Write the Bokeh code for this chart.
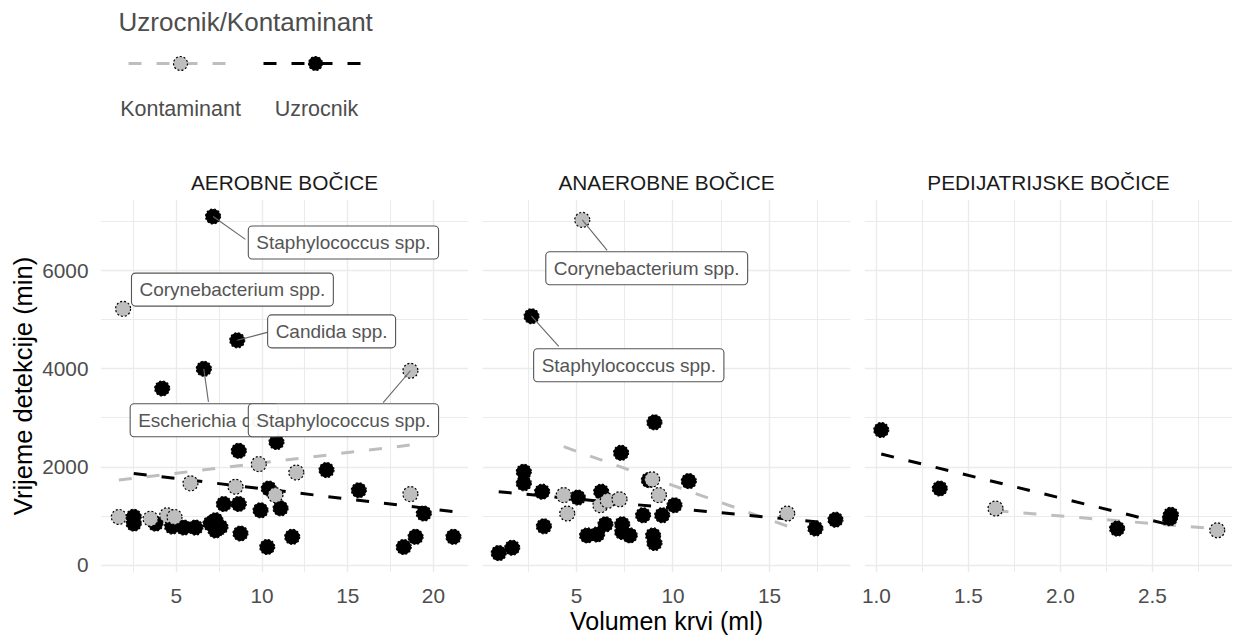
from bokeh.plotting import figure
from bokeh.layouts import column, row
from bokeh.models import Range1d, FixedTicker
from bokeh.core.properties import value
from bokeh.embed import file_html
from bokeh.resources import INLINE

# ---------------- data ----------------
panel_titles = ["AEROBNE BOČICE", "ANAEROBNE BOČICE", "PEDIJATRIJSKE BOČICE"]
groups = ["Kontaminant", "Uzrocnik"]
legend_title = "Uzrocnik/Kontaminant"
x_title = "Volumen krvi (ml)"
y_title = "Vrijeme detekcije (min)"

# AEROBNE BOČICE
aer_k_x = [1.89, 18.66, 9.81, 12.0, 5.82, 8.45, 10.78, 18.66, 1.64, 3.49, 4.46, 4.89]
aer_k_y = [5220, 3960, 2060, 1890, 1670, 1600, 1430, 1450, 985, 950, 1020, 985]
aer_u_x = [7.14, 8.55, 6.6, 4.17, 8.64, 10.84, 13.76, 10.39, 9.91, 11.08, 15.65, 19.44,
           18.96, 18.27, 21.17, 11.76, 10.3, 8.74, 7.77, 8.64, 7.28, 7.57, 7.28, 6.99,
           2.51, 2.51, 3.78, 4.75, 5.43, 6.11]
aer_u_y = [7100, 4580, 4000, 3600, 2330, 2510, 1940, 1565, 1120, 1160, 1530, 1055,
           580, 375, 580, 580, 375, 650, 1250, 1250, 920, 780, 710, 850,
           990, 850, 850, 790, 770, 770]
aer_fit_k_x = [1.64, 18.66]
aer_fit_k_y = [1735, 2449]
aer_fit_u_x = [2.51, 21.17]
aer_fit_u_y = [1871, 1095]
aer_lab_text = ["Staphylococcus spp.", "Corynebacterium spp.", "Candida spp.",
                "Escherichia coli", "Staphylococcus spp."]
aer_lab_pt_x = [7.14, 1.89, 8.55, 6.6, 18.66]
aer_lab_pt_y = [7100, 5220, 4580, 4000, 3960]

# ANAEROBNE BOČICE
ana_k_x = [5.3, 4.34, 4.52, 6.24, 6.62, 7.23, 8.92, 9.27, 15.92]
ana_k_y = [7030, 1430, 1055, 1225, 1315, 1345, 1750, 1430, 1055]
ana_u_x = [2.67, 9.04, 7.31, 2.27, 2.27, 3.22, 3.31, 0.97, 1.67, 5.07, 6.28, 5.55,
           6.07, 6.5, 7.37, 7.37, 7.76, 8.75, 8.45, 9.44, 10.08, 8.97, 9.04, 10.82,
           17.38, 18.42]
ana_u_y = [5070, 2910, 2290, 1905, 1670, 1500, 795, 250, 360, 1380, 1500, 610,
           630, 835, 835, 680, 610, 1735, 1020, 1020, 1225, 610, 455, 1715,
           750, 930]
ana_fit_k_x = [4.34, 15.92]
ana_fit_k_y = [2415, 800]
ana_fit_u_x = [0.97, 18.42]
ana_fit_u_y = [1500, 850]
ana_lab_text = ["Corynebacterium spp.", "Staphylococcus spp."]
ana_lab_pt_x = [5.3, 2.67]
ana_lab_pt_y = [7030, 5070]

# PEDIJATRIJSKE BOČICE
ped_k_x = [1.647, 2.852]
ped_k_y = [1157, 714]
ped_u_x = [1.026, 1.344, 2.308, 2.60, 2.595]
ped_u_y = [2755, 1565, 748, 1030, 960]
ped_fit_k_x = [1.647, 2.852]
ped_fit_k_y = [1111, 744]
ped_fit_u_x = [1.026, 2.60]
ped_fit_u_y = [2265, 820]
ped_lab_text = []
ped_lab_pt_x = []
ped_lab_pt_y = []

# tick labels
y_ticks = [0, 2000, 4000, 6000]
y_tick_labels = ["0", "2000", "4000", "6000"]
y_minor = [1000, 3000, 5000, 7000]
aer_x_ticks = [5, 10, 15, 20]
aer_x_labels = ["5", "10", "15", "20"]
aer_x_minor = [2.5, 7.5, 12.5, 17.5]
ana_x_ticks = [5, 10, 15]
ana_x_labels = ["5", "10", "15"]
ana_x_minor = [2.5, 7.5, 12.5, 17.5]
ped_x_ticks = [1.0, 1.5, 2.0, 2.5]
ped_x_labels = ["1.0", "1.5", "2.0", "2.5"]
ped_x_minor = [1.25, 1.75, 2.25, 2.75]

# ---------------- layout / style (not data) ----------------
aer_lab_pos_x = [14.75, 8.27, 14.06, 6.62, 14.75]
aer_lab_pos_y = [6571, 5612, 4762, 2953, 2953]
aer_seg_end_x = [9.03, 1.89, 10.3, 6.87, 17.07]
aer_seg_end_y = [6633, 5220, 4741, 3327, 3312]
ana_lab_pos_x = [8.64, 7.71]
ana_lab_pos_y = [6045, 4071]
ana_seg_end_x = [6.59, 4.08]
ana_seg_end_y = [6408, 4455]

FONT = "Liberation Sans"
GRAY = "#BEBEBE"
GRID = "#EBEBEB"
SMALL = "20.8px"
BIG = "26px"
PT_SIZE = 15
DASH = "13 15"


def make_panel(title, xr, fw, bl, br, kx, ky, ux, uy, fkx, fky, fux, fuy,
               xt, xtl, xm, show_y, xlabel,
               lab_text, lab_px, lab_py, lab_x, lab_y, seg_x, seg_y):
    p = figure(frame_width=fw, frame_height=373,
               x_range=Range1d(*xr), y_range=Range1d(-145, 7445),
               output_backend="svg", toolbar_location=None,
               min_border_left=bl, min_border_right=br,
               min_border_top=49, min_border_bottom=0,
               background_fill_color="white", border_fill_color="white",
               outline_line_color=None, title=title)
    p.title.align = "center"
    p.title.text_font = FONT
    p.title.text_font_size = SMALL
    p.title.text_font_style = "normal"
    p.title.text_color = "#1A1A1A"
    p.title.standoff = 11

    xtick = FixedTicker(ticks=xt, minor_ticks=xm)
    p.xaxis.ticker = xtick
    p.xgrid.ticker = xtick
    p.xaxis.major_label_overrides = {t: l for t, l in zip(xt, xtl)}
    ytick = FixedTicker(ticks=y_ticks, minor_ticks=y_minor)
    p.yaxis.ticker = ytick
    p.ygrid.ticker = ytick
    p.yaxis.major_label_overrides = {t: l for t, l in zip(y_ticks, y_tick_labels)}

    for ax in (p.xaxis, p.yaxis):
        ax.axis_line_color = None
        ax.major_tick_line_color = None
        ax.minor_tick_line_color = None
        ax.major_tick_out = 0
        ax.major_tick_in = 0
        ax.minor_tick_out = 0
        ax.minor_tick_in = 0
        ax.major_label_text_font = FONT
        ax.major_label_text_font_size = SMALL
        ax.major_label_text_color = "#4D4D4D"
        ax.axis_label_text_font = FONT
        ax.axis_label_text_font_style = "normal"
        ax.axis_label_text_color = "black"
    p.xaxis.major_label_standoff = 16
    p.yaxis.major_label_standoff = 12
    if xlabel:
        p.xaxis.axis_label = xlabel
        p.xaxis.axis_label_text_font_size = "25px"
        p.xaxis.axis_label_standoff = 1
    if show_y:
        p.yaxis.axis_label = y_title
        p.yaxis.axis_label_text_font_size = "25.5px"
        p.yaxis.axis_label_standoff = 2
    else:
        p.yaxis.visible = False

    for g in (p.xgrid, p.ygrid):
        g.grid_line_color = GRID
        g.grid_line_width = 1.4
        g.minor_grid_line_color = GRID
        g.minor_grid_line_width = 1.1

    # fitted trend lines
    p.line(fkx, fky, line_color=GRAY, line_width=3, line_dash=DASH)
    p.line(fux, fuy, line_color="black", line_width=3, line_dash=DASH)
    # points
    p.scatter(ux, uy, size=PT_SIZE, fill_color="black", line_color="black",
              line_width=1.2, line_dash="2 2")
    p.scatter(kx, ky, size=PT_SIZE, fill_color=GRAY, line_color="black",
              line_width=1.2, line_dash="2 2")
    # repel labels
    if lab_text:
        p.segment(x0=lab_px, y0=lab_py, x1=seg_x, y1=seg_y,
                  line_color="#666666", line_width=1.1)
        p.text(x=lab_x, y=lab_y, text=lab_text,
               text_align="center", text_baseline="middle",
               text_font=value(FONT), text_font_size="19px",
               text_color="#555555",
               background_fill_color="white", background_fill_alpha=0.93,
               border_line_color="#555555", border_line_width=1.1,
               padding=(8, 6), border_radius=4)
    return p


p1 = make_panel(panel_titles[0], (0.57, 22.05), 368, 100, 7,
                aer_k_x, aer_k_y, aer_u_x, aer_u_y,
                aer_fit_k_x, aer_fit_k_y, aer_fit_u_x, aer_fit_u_y,
                aer_x_ticks, aer_x_labels, aer_x_minor, True, None,
                aer_lab_text, aer_lab_pt_x, aer_lab_pt_y,
                aer_lab_pos_x, aer_lab_pos_y, aer_seg_end_x, aer_seg_end_y)
p2 = make_panel(panel_titles[1], (0.13, 19.2), 368, 7, 7,
                ana_k_x, ana_k_y, ana_u_x, ana_u_y,
                ana_fit_k_x, ana_fit_k_y, ana_fit_u_x, ana_fit_u_y,
                ana_x_ticks, ana_x_labels, ana_x_minor, False, x_title,
                ana_lab_text, ana_lab_pt_x, ana_lab_pt_y,
                ana_lab_pos_x, ana_lab_pos_y, ana_seg_end_x, ana_seg_end_y)
p3 = make_panel(panel_titles[2], (0.935, 2.935), 368, 7, 0,
                ped_k_x, ped_k_y, ped_u_x, ped_u_y,
                ped_fit_k_x, ped_fit_k_y, ped_fit_u_x, ped_fit_u_y,
                ped_x_ticks, ped_x_labels, ped_x_minor, False, None,
                ped_lab_text, ped_lab_pt_x, ped_lab_pt_y, [], [], [], [])

# ---------------- legend (drawn in its own figure) ----------------
LG_W, LG_H = 1232, 150
lg = figure(frame_width=LG_W, frame_height=LG_H, x_range=Range1d(0, LG_W),
            y_range=Range1d(LG_H, 0), x_axis_type=None, y_axis_type=None,
            min_border=0, output_backend="svg", toolbar_location=None,
            outline_line_color=None, background_fill_color="white",
            border_fill_color="white")
lg.text(x=[118], y=[21], text=[legend_title], text_align="left",
        text_baseline="middle", text_font=value(FONT), text_font_size=BIG,
        text_color="#4D4D4D")
key_cx = [180, 315]
key_y = 63
lg.line([key_cx[0] - 52, key_cx[0] + 48], [key_y, key_y], line_color=GRAY,
        line_width=3, line_dash=DASH)
lg.line([key_cx[1] - 52, key_cx[1] + 48], [key_y, key_y], line_color="black",
        line_width=3, line_dash=DASH)
lg.scatter([key_cx[0]], [key_y], size=14, fill_color=GRAY, line_color="black",
           line_width=1.2, line_dash="2 2")
lg.scatter([key_cx[1]], [key_y], size=14, fill_color="black", line_color="black",
           line_width=1.2, line_dash="2 2")
lg.text(x=[180, 316], y=[108, 108], text=groups, text_align="center",
        text_baseline="middle", text_font=value(FONT), text_font_size="21.5px",
        text_color="#4D4D4D")

layout = column(lg, row(p1, p2, p3))
open("out.html", "w").write(file_html(layout, INLINE))
